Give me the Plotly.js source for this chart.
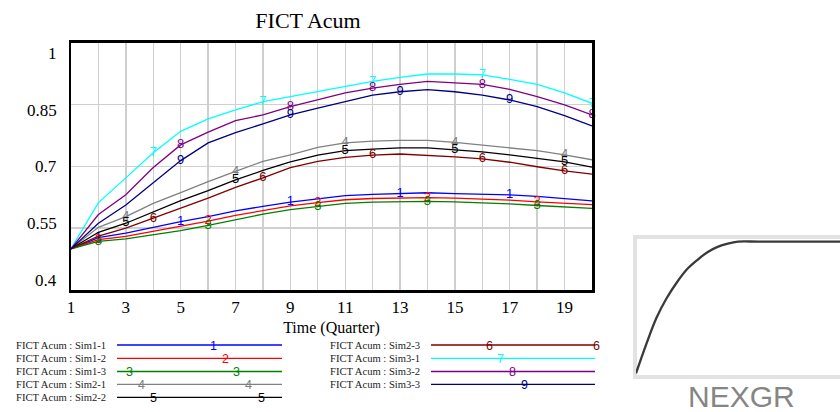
<!DOCTYPE html>
<html><head><meta charset="utf-8">
<script src="https://cdn.plot.ly/plotly-3.0.1.min.js"></script>
<style>html,body{margin:0;padding:0;background:#fff}#chart{width:840px;height:412px}</style>
</head><body><div id="chart"></div>
<script>
// ---------- data ----------
const time = [1,2,3,4,5,6,7,8,9,10,11,12,13,14,15,16,17,18,19,20];
const xTickText = ['1','','3','','5','','7','','9','','11','','13','','15','','17','','19',''];
const yTickVals = [0.4, 0.55, 0.7, 0.85, 1];
const yTickText = ['0.4', '0.55', '0.7', '0.85', '1'];

const sim1_1 = [0.5,0.527,0.538,0.552,0.566,0.578,0.592,0.603,0.613,0.621,0.629,0.632,0.634,0.636,0.634,0.633,0.631,0.627,0.621,0.616];
const sim1_2 = [0.5,0.522,0.530,0.542,0.554,0.567,0.581,0.593,0.604,0.612,0.619,0.622,0.623,0.624,0.623,0.621,0.618,0.614,0.611,0.607];
const sim1_3 = [0.5,0.518,0.524,0.534,0.544,0.557,0.571,0.584,0.595,0.603,0.610,0.613,0.614,0.615,0.614,0.612,0.609,0.605,0.601,0.598];
const sim2_1 = [0.5,0.552,0.578,0.610,0.636,0.663,0.688,0.712,0.728,0.746,0.757,0.761,0.763,0.763,0.758,0.751,0.745,0.738,0.728,0.716];
const sim2_2 = [0.5,0.540,0.562,0.590,0.617,0.641,0.667,0.690,0.711,0.727,0.738,0.742,0.745,0.745,0.740,0.735,0.728,0.720,0.711,0.698];
const sim2_3 = [0.5,0.531,0.550,0.574,0.598,0.623,0.649,0.672,0.697,0.712,0.722,0.727,0.730,0.727,0.723,0.718,0.710,0.699,0.689,0.681];
const sim3_1 = [0.5,0.612,0.672,0.733,0.785,0.815,0.837,0.857,0.869,0.881,0.894,0.906,0.916,0.924,0.924,0.922,0.911,0.899,0.878,0.853];
const sim3_2 = [0.5,0.583,0.631,0.697,0.752,0.783,0.811,0.825,0.845,0.861,0.878,0.890,0.899,0.906,0.903,0.899,0.887,0.869,0.849,0.825];
const sim3_3 = [0.5,0.562,0.606,0.659,0.714,0.757,0.782,0.803,0.825,0.841,0.857,0.873,0.881,0.886,0.881,0.873,0.861,0.845,0.823,0.798];

const seriesNames = ['FICT Acum : Sim1-1','FICT Acum : Sim1-2','FICT Acum : Sim1-3',
  'FICT Acum : Sim2-1','FICT Acum : Sim2-2','FICT Acum : Sim2-3',
  'FICT Acum : Sim3-1','FICT Acum : Sim3-2','FICT Acum : Sim3-3'];
const seriesLabels = ['1','2','3','4','5','6','7','8','9'];
// indices (into time) where the series number is written on the line
const labelIdx = [[1,4,8,12,16],[1,5,9,13,17],[1,5,9,13,17],[2,6,10,14,18],[2,6,10,14,18],
  [3,7,11,15,18],[3,7,11,15,19],[4,8,11,15,19],[4,8,12,16]];

// NEXGR lookup thumbnail
const nexgrX = [0,0.5,1,1.5,2,2.5,3,3.5,4,4.5,5,6,8,10];
const nexgrY = [0,0.22,0.42,0.57,0.69,0.79,0.86,0.92,0.96,0.985,1,1,1,1];

// ---------- styling ----------
const allSeries = [sim1_1,sim1_2,sim1_3,sim2_1,sim2_2,sim2_3,sim3_1,sim3_2,sim3_3];
const colors = ['#0000ff','#ff0000','#008000','#808080','#000000','#800000','#00ffff','#800080','#000080'];
const serif = '"Liberation Serif","Times New Roman",serif';
const sans = '"Liberation Sans",Arial,sans-serif';
const W = 840, H = 412;
const PX = x => x / W, PY = y => 1 - y / H;

const traces = allSeries.map((ys, i) => ({
  x: time, y: ys, type: 'scatter', mode: 'lines+text',
  line: {color: colors[i], width: 1.3},
  text: time.map((t, k) => labelIdx[i].includes(k) ? seriesLabels[i] : ''),
  textposition: 'middle center',
  textfont: {family: sans, size: 13, color: colors[i]},
  cliponaxis: false, hoverinfo: 'skip', showlegend: false,
  xaxis: 'x', yaxis: 'y'
}));

traces.push({
  x: nexgrX, y: nexgrY, type: 'scatter', mode: 'lines', line: {color: '#3a3a3a', width: 2.3, shape: 'spline'},
  xaxis: 'x3', yaxis: 'y3', showlegend: false, hoverinfo: 'skip'
});

const annotations = [];
const shapes = [];

// y tick labels (Vensim places them slightly compressed toward the centre)
yTickVals.forEach((v, i) => {
  const ypix = 167 - (v - 0.7) / 0.15 * 56.75;
  annotations.push({xref: 'paper', yref: 'paper', x: PX(59), y: PY(ypix), xanchor: 'right', yanchor: 'middle',
    text: yTickText[i], showarrow: false, font: {family: serif, size: 17, color: '#000'}});
});

// legend
const legendRows = [345, 358.3, 371.5, 384.3, 397.3];
const legendMarks = [[213],[225],[129,236],[141,248],[153,261],[489,596],[500],[512],[524]];
seriesNames.forEach((nm, i) => {
  const col = i < 5 ? 0 : 1;
  const row = i < 5 ? i : i - 5;
  const yy = legendRows[row];
  const textRight = col === 0 ? 108 : 422;
  const l0 = col === 0 ? 117 : 431, l1 = col === 0 ? 282 : 595;
  annotations.push({xref: 'paper', yref: 'paper', x: PX(textRight), y: PY(yy), xanchor: 'right', yanchor: 'middle',
    text: nm, showarrow: false, font: {family: serif, size: 10.6, color: '#222'}});
  shapes.push({type: 'line', xref: 'paper', yref: 'paper', x0: PX(l0), x1: PX(l1), y0: PY(yy), y1: PY(yy),
    line: {color: colors[i], width: 1.3}});
  legendMarks[i].forEach(mx => {
    annotations.push({xref: 'paper', yref: 'paper', x: PX(mx), y: PY(yy + 0.5), xanchor: 'center', yanchor: 'middle',
      text: seriesLabels[i], showarrow: false, font: {family: sans, size: 12.5, color: colors[i]}});
  });
});

// NEXGR thumbnail frame and name
shapes.push({type: 'rect', xref: 'paper', yref: 'paper', x0: PX(635), x1: PX(846), y0: PY(377), y1: PY(237),
  line: {color: '#e2e2e2', width: 4}, fillcolor: 'rgba(0,0,0,0)', layer: 'below'});
annotations.push({xref: 'paper', yref: 'paper', x: PX(741), y: PY(396), xanchor: 'center', yanchor: 'middle',
  text: 'NEXGR', showarrow: false, font: {family: sans, size: 30, color: '#858585'}});

const layout = {
  width: W, height: H,
  margin: {l: 0, r: 0, t: 0, b: 0, pad: 0},
  paper_bgcolor: '#fff', plot_bgcolor: '#fff',
  showlegend: false,
  title: {text: 'FICT Acum', font: {family: serif, size: 22, color: '#000'},
    x: PX(308), xanchor: 'center', y: PY(20), yanchor: 'middle', xref: 'paper', yref: 'container'},
  xaxis: {
    domain: [PX(71), PX(592)], range: [1, 20], anchor: 'y',
    tickvals: time, ticktext: xTickText, ticks: '', ticklen: 0,
    tickfont: {family: serif, size: 17, color: '#000'},
    showgrid: true, gridcolor: '#cfcfcf', gridwidth: 1.4, zeroline: false,
    showline: true, linecolor: '#000', linewidth: 2.5, mirror: true,
    title: {text: 'Time (Quarter)', font: {family: serif, size: 16, color: '#000'}, standoff: 6},
    automargin: false, fixedrange: true
  },
  yaxis: {
    domain: [PY(290), PY(42.7)], range: [0.4, 1], anchor: 'x',
    tickvals: yTickVals, showticklabels: false, ticks: '',
    showgrid: true, gridcolor: '#cfcfcf', gridwidth: 1.4, zeroline: false,
    showline: true, linecolor: '#000', linewidth: 2.5, mirror: true,
    automargin: false, fixedrange: true
  },
  xaxis3: {domain: [PX(636), 1], range: [0, 10], anchor: 'y3', visible: false, fixedrange: true},
  yaxis3: {domain: [PY(376), PY(239)], range: [-0.02, 1.02], anchor: 'x3', visible: false, fixedrange: true},
  annotations: annotations,
  shapes: shapes
};

Plotly.newPlot('chart', traces, layout, {staticPlot: true, displayModeBar: false});
</script>
</body></html>
